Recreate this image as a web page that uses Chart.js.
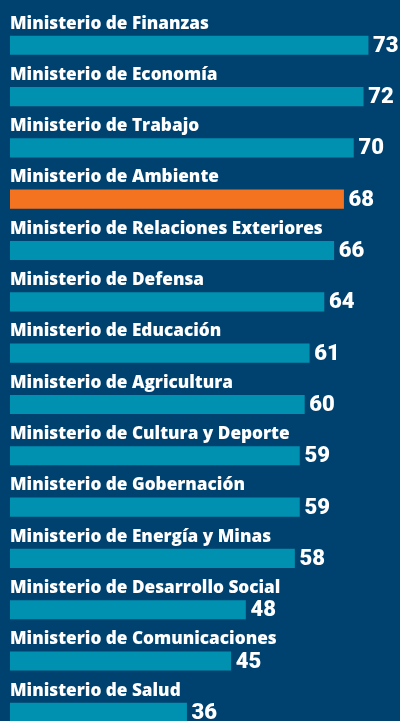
<!DOCTYPE html>
<html>
<head>
<meta charset="utf-8">
<script src="https://cdn.jsdelivr.net/npm/chart.js@4.4.1/dist/chart.umd.min.js"></script>
<style>
  html, body { margin: 0; padding: 0; background: #00426f; overflow: hidden; }
  #wrap { position: absolute; left: 0; top: 0; width: 400px; height: 738px; }
</style>
</head>
<body>
<div id="wrap"><canvas id="c"></canvas></div>
<script>
const categories = [
  "Ministerio de Finanzas",
  "Ministerio de Economía",
  "Ministerio de Trabajo",
  "Ministerio de Ambiente",
  "Ministerio de Relaciones Exteriores",
  "Ministerio de Defensa",
  "Ministerio de Educación",
  "Ministerio de Agricultura",
  "Ministerio de Cultura y Deporte",
  "Ministerio de Gobernación",
  "Ministerio de Energía y Minas",
  "Ministerio de Desarrollo Social",
  "Ministerio de Comunicaciones",
  "Ministerio de Salud"
];
const values = [73, 72, 70, 68, 66, 64, 61, 60, 59, 59, 58, 48, 45, 36];
const highlighted = ["Ministerio de Ambiente"];

const TEAL = "#0090b0";
const ORANGE = "#f47321";
const WHITE = "#ffffff";

const labelPlugin = {
  id: "labels",
  afterDatasetsDraw(chart) {
    const ctx = chart.ctx;
    const meta = chart.getDatasetMeta(0);
    ctx.save();
    ctx.fillStyle = WHITE;
    meta.data.forEach((bar, i) => {
      const half = bar.height / 2;
      ctx.font = "800 17.2px 'Open Sans', Roboto, sans-serif";
      ctx.textAlign = "left";
      ctx.textBaseline = "alphabetic";
      ctx.fillText(categories[i], chart.chartArea.left, bar.y - half - 7.5);
      ctx.font = "900 22px Roboto, 'Liberation Sans', sans-serif";
      ctx.textBaseline = "middle";
      ctx.fillText(String(values[i]), bar.x + 5, bar.y + 1);
    });
    ctx.restore();
  }
};

new Chart(document.getElementById("c"), {
  type: "bar",
  data: {
    labels: categories,
    datasets: [{
      data: values,
      backgroundColor: categories.map(c => highlighted.includes(c) ? ORANGE : TEAL),
      borderWidth: 0,
      barThickness: 18.5
    }]
  },
  options: {
    indexAxis: "y",
    responsive: true,
    maintainAspectRatio: false,
    animation: false,
    layout: { padding: { left: 10, right: 0, top: 19.6, bottom: 0 } },
    plugins: { legend: { display: false }, tooltip: { enabled: false } },
    scales: {
      x: { display: false, min: 0, max: 79.5 },
      y: { display: false, grid: { display: false } }
    }
  },
  plugins: [labelPlugin]
});
</script>
</body>
</html>
